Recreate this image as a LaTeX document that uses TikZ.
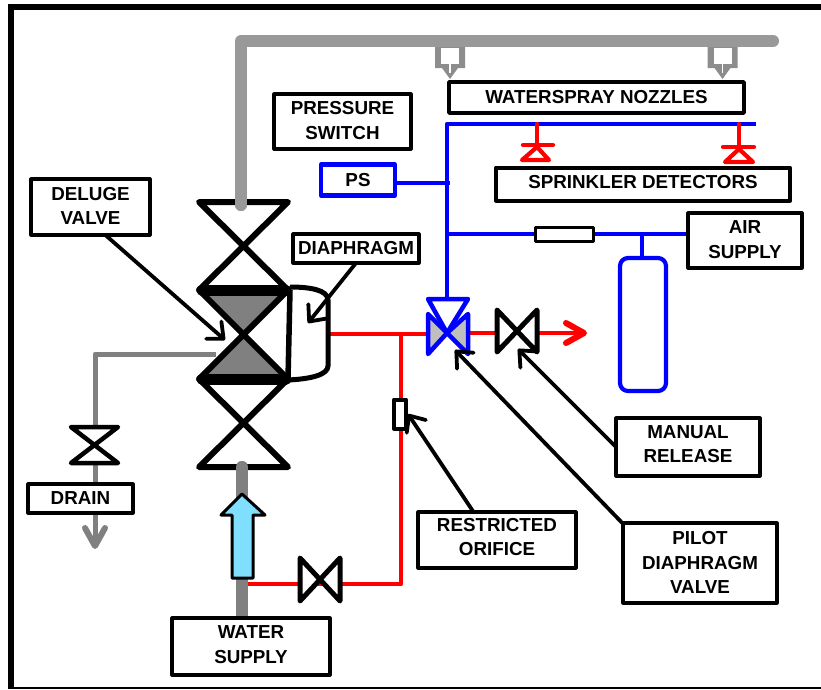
\documentclass[tikz,border=0pt]{standalone}
\usepackage{fontspec}
\setmainfont{Liberation Sans}
\usetikzlibrary{arrows.meta,calc}
\definecolor{pipegrey}{HTML}{999999}
\definecolor{darkgrey}{HTML}{808080}
\definecolor{pureblue}{HTML}{0000FF}
\definecolor{purered}{HTML}{FF0000}
\definecolor{waterblue}{HTML}{80DFFF}
\tikzset{
  lbl/.style={draw=black,line width=3.2pt,fill=white,align=center,inner sep=0pt,outer sep=0pt,
    font=\fontsize{18.8}{24.5}\selectfont\bfseries,text=black},
  valveline/.style={draw=black,line width=5pt,fill=white},
  bluepipe/.style={draw=pureblue,line width=4.5pt},
  redpipe/.style={draw=purered,line width=4.5pt},
  callout/.style={draw=black,line width=3.8pt,line cap=round,
    -{Straight Barb[length=13pt,width=23pt,line width=3.8pt,round]}},
  detector/.style={draw=purered,line width=4.2pt,line cap=round}
}
\begin{document}
\begin{tikzpicture}[x=1pt,y=-1pt,line join=round]
\useasboundingbox (0,0) rectangle (821,689);
% frame
\fill[black] (8,4) rectangle (821,9.5);
\fill[black] (8,4) rectangle (14,689);
\fill[black] (8,687) rectangle (821,689);
% coordinates
\coordinate (gTop) at (241,205);
\coordinate (gCorner) at (241,41);
\coordinate (gEnd) at (773,41);
\coordinate (wTop) at (242,467);
\coordinate (wBot) at (242,618);
\coordinate (drainA) at (216,354);
\coordinate (drainB) at (95,354);
\coordinate (drainC) at (95,546);
\coordinate (redA) at (330,334);
\coordinate (redT) at (401,334);
\coordinate (redPilot) at (447,334);
\coordinate (redB) at (401,584);
\coordinate (redC) at (248,584);
\coordinate (redOut) at (584,333);
\coordinate (redOutStart) at (467,333);
\coordinate (blueCorner) at (447,124);
\coordinate (blueValve) at (447,300);
\coordinate (blueEnd) at (756,124);
\coordinate (blueJ1) at (450,183);
\coordinate (blueJ2) at (445,234);
\coordinate (tankTop) at (642,234);
% nozzles
\foreach \nx/\nm in {450/nozA,722.5/nozB}{
  \coordinate (\nm) at (\nx,44);
  \fill[darkgrey!90!white] ($(\nm)+(-15,0)$) -- ($(\nm)+(-15,24)$) -- ($(\nm)+(-8,24)$) -- ($(\nm)+(0,35)$) -- ($(\nm)+(8,24)$) -- ($(\nm)+(15,24)$) -- ($(\nm)+(15,0)$) -- cycle;
  \fill[white] ($(\nm)+(-9,4)$) rectangle ($(\nm)+(9,20)$);
  \draw[white,line width=1.5pt] ($(\nm)+(0,19)$) -- ($(\nm)+(0,29)$);
}
% grey pipes
\draw[pipegrey,line width=12pt,line cap=round] (gTop) -- (gCorner) -- (gEnd);
\draw[darkgrey,line width=12pt,line cap=round] (wTop) -- (wBot);
\draw[darkgrey,line width=5pt] (drainA) -- (drainB) -- ($(drainC)+(0,-4)$);
\draw[darkgrey,line width=6pt,line cap=round] (85,528) -- (drainC) -- (105,528);
% red pipes
\draw[redpipe] (redA) -- (redPilot);
\draw[redpipe] (redT) -- (redB) -- (redC);
\draw[redpipe] (redOutStart) -- (redOut);
\draw[purered,line width=6pt,line cap=round] (566,323) -- (584,333) -- (566,343);
% blue pipes
\draw[bluepipe] (blueValve) -- (blueCorner) -- (blueEnd);
\draw[bluepipe] (blueJ1) -- (395,183);
\draw[bluepipe] (blueJ2) -- (688,234);
\draw[bluepipe] (tankTop) -- (642,258);
\node[draw=pureblue,line width=4.2pt,fill=white,minimum width=46pt,minimum height=133pt,rounded corners=8pt,inner sep=0pt] (tank) at (643,324.5) {};
% detectors
\draw[detector] (537,124) -- (537,145);
\draw[detector] (523,145) -- (553,145);
\draw[detector] (537,147) -- (522,160) -- (549,160) -- cycle;
\draw[detector] (739,124) -- (739,147);
\draw[detector] (723,147) -- (754,147);
\draw[detector] (739,149) -- (725,162) -- (753,162) -- cycle;
% deluge valve
\fill[darkgrey] (205,295) -- (281,295) -- (243,333) -- cycle;
\fill[darkgrey] (205,375) -- (281,375) -- (243,337) -- cycle;
\draw[valveline,fill=none,line width=6pt] (199,202) -- (288,202) -- (199,290) -- (288,290) -- cycle;
\draw[valveline,fill=none,line width=6pt] (199,290) -- (288,290) -- (199,379) -- (288,379) -- cycle;
\draw[valveline,fill=none,line width=6pt] (199,379) -- (288,379) -- (199,467) -- (288,467) -- cycle;
\draw[black,line width=11pt,line cap=round] (202,290) -- (286,290);
\draw[black,line width=11pt,line cap=round] (202,379) -- (286,379);
\draw[black,line width=5.5pt] (290,290) -- (288,379);
\draw[black,line width=5pt] (290,287) .. controls (310,287) and (328,290) .. (328,300) -- (328,366) .. controls (328,375) and (310,379) .. (288,380);
% grey pipe ends over the valve bars
\draw[pipegrey,line width=12pt,line cap=round] (gTop) -- ($(gTop)+(0,-8)$);
\draw[darkgrey,line width=12pt,line cap=round] (wTop) -- ($(wTop)+(0,8)$);
% drain valve
\draw[black,line width=4.5pt,fill=white] (71,427) -- (118,427) -- (71,463) -- (118,463) -- cycle;
% pilot valve
\draw[pureblue,line width=4.5pt,fill=white] (428,299) -- (468,299) -- (447,333) -- cycle;
\draw[pureblue,line width=4.5pt,fill=black!25] (428,314) -- (428,354) -- (447,333) -- cycle;
\draw[pureblue,line width=4.5pt,fill=black!25] (468,314) -- (468,354) -- (447,333) -- cycle;
% manual valve
\draw[valveline,fill=white] (497,310) -- (497,352) -- (537,310) -- (537,352) -- cycle;
% supply valve
\draw[valveline,fill=white] (300,558) -- (300,601) -- (340,558) -- (340,601) -- cycle;
% orifice, air restriction
\node[draw=black,line width=4pt,fill=white,minimum width=12pt,minimum height=29pt,inner sep=0pt] (orifice) at (400,414) {};
\node[draw=black,line width=3.5pt,fill=white,minimum width=58pt,minimum height=14pt,inner sep=0pt] (airres) at (564.5,234.5) {};
% water arrow
\draw[black,line width=3pt,fill=waterblue] (242,494) -- (265,515) -- (253,515) -- (253,578) -- (232,578) -- (232,515) -- (221,515) -- cycle;
% labels
\node[lbl,minimum width=295pt,minimum height=31pt,line width=3.5pt,text depth=2pt] (spray) at (596.5,97.5) {WATERSPRAY NOZZLES};
\node[lbl,minimum width=294pt,minimum height=33pt,line width=4pt,text depth=4pt] (detect) at (643,184) {SPRINKLER DETECTORS};
\node[lbl,minimum width=137pt,minimum height=55pt,text depth=2pt] (pswitch) at (342.5,121.5) {PRESSURE\\SWITCH};
\node[lbl,draw=pureblue,line width=4.2pt,minimum width=74pt,minimum height=31pt,text depth=1pt] (ps) at (358,180) {PS};
\node[lbl,minimum width=119pt,minimum height=56pt,text depth=2pt] (deluge) at (90.5,207) {DELUGE\\VALVE};
\node[lbl,minimum width=126pt,minimum height=29pt,text depth=2pt] (diaph) at (356,248.5) {DIAPHRAGM};
\node[lbl,minimum width=114pt,minimum height=55pt,text depth=2pt] (air) at (745,240.5) {AIR\\SUPPLY};
\node[lbl,minimum width=144pt,minimum height=58pt,text depth=6pt] (manual) at (688,447) {MANUAL\\RELEASE};
\node[lbl,minimum width=158pt,minimum height=56pt,text depth=6pt] (restr) at (497,540) {RESTRICTED\\ORIFICE};
\node[lbl,minimum width=154pt,minimum height=80pt,text depth=1pt] (pilot) at (700,563) {PILOT\\DIAPHRAGM\\VALVE};
\node[lbl,minimum width=105pt,minimum height=29pt] (drain) at (80.5,498.5) {DRAIN};
\node[lbl,minimum width=158pt,minimum height=57pt,text depth=4pt] (water) at (251,646.5) {WATER\\SUPPLY};
% callouts
\coordinate (tipDeluge) at (225,340);
\coordinate (tipDiaph) at (308,323);
\coordinate (tipPilot) at (455,350);
\coordinate (tipManual) at (518,349);
\coordinate (tipOrifice) at (408,414);
\draw[callout] (deluge.-62) -- (tipDeluge);
\draw[callout] (diaph.south) -- (tipDiaph);
\draw[callout] (pilot.153) -- (tipPilot);
\draw[callout] (manual.west) -- (tipManual);
\draw[callout] (restr.130) -- (tipOrifice);
\end{tikzpicture}
\end{document}
